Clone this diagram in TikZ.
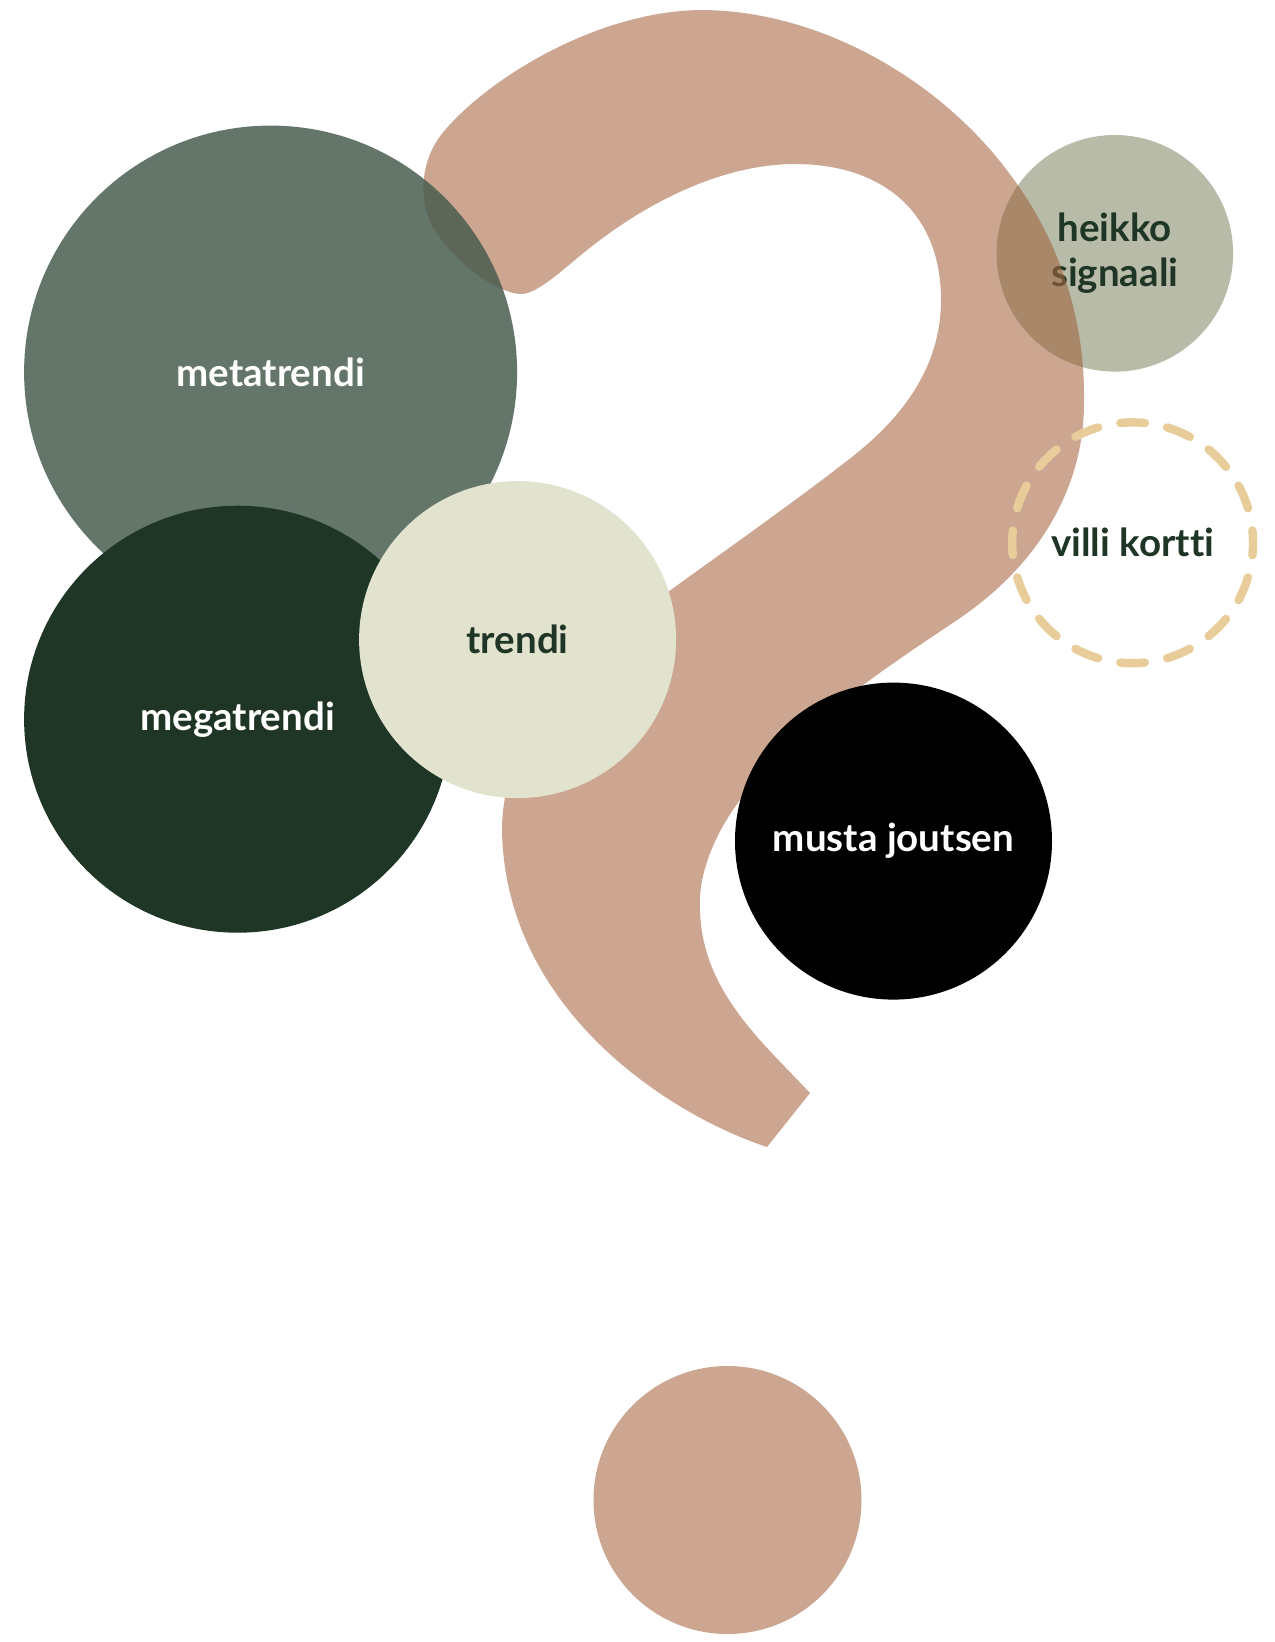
\documentclass[tikz,border=0pt]{standalone}
\usepackage{fontspec}
\setmainfont{Lato}[Ligatures=NoCommon]
\definecolor{qtan}{RGB}{204,166,145}
\definecolor{metaC}{RGB}{71,91,78}
\definecolor{megaC}{RGB}{31,53,38}
\definecolor{trendC}{RGB}{225,227,206}
\definecolor{heikC}{RGB}{183,187,168}
\definecolor{brownOv}{RGB}{161,102,65}
\definecolor{villiC}{RGB}{232,205,155}
\definecolor{darkT}{RGB}{31,53,38}
\begin{document}
\begin{tikzpicture}[x=1pt,y=-1pt,
  blob/.style={circle, inner sep=0pt, outer sep=0pt, align=center,
    font=\bfseries\fontsize{38.5}{45}\selectfont},
  qmark/.style={insert path={(767,1147)
    .. controls (670,1115) and (505,1010) .. (502,830)
    .. controls (502,730) and (588,651) .. (668,592)
    .. controls (730,547) and (800,498) .. (857,453)
    .. controls (910,410) and (941,360) .. (941,300)
    .. controls (941,210) and (880,164) .. (795,164)
    .. controls (730,164) and (660,195) .. (600,240)
    .. controls (570,262) and (540,294) .. (521,294)
    .. controls (500,294) and (455,265) .. (433,227)
    .. controls (420,205) and (418,165) .. (441,135)
    .. controls (480,85) and (590,12) .. (700,10)
    .. controls (820,10) and (940,80) .. (1009,173)
    .. controls (1060,240) and (1085,320) .. (1084,400)
    .. controls (1085,480) and (1045,560) .. (960,618)
    .. controls (915,649) and (800,720) .. (740,800)
    .. controls (710,840) and (698,880) .. (700,910)
    .. controls (702,990) and (760,1040) .. (810,1093)
    -- cycle}}
]
\useasboundingbox (0,0) rectangle (1275,1642);
\fill[white] (0,0) rectangle (1275,1642);

% question mark body
\fill[qtan, qmark];

% circles
\node[blob, minimum size=493pt, fill=metaC, fill opacity=0.84, text opacity=1, text=white]
  (meta) at (270.6,372.1) {metatrendi};
\node[blob, minimum size=427pt, fill=megaC, text=white]
  (mega) at (237.6,719.2) {megatrendi};
\node[blob, minimum size=317pt, fill=trendC, text=darkT]
  (trend) at (517.6,639.6) {trendi};
\node[blob, minimum size=236.6pt, fill=heikC, text=darkT]
  (heik) at (1114.8,253.3) {heikko\\signaali};
\begin{scope}
  \clip (heik.center) circle[radius=118.3];
  \fill[brownOv, opacity=0.6, qmark];
\end{scope}
\node[blob, minimum size=240.8pt, draw=villiC, line width=8.4pt, line cap=round,
  dash pattern=on 24.6pt off 22.68pt, dash phase=12.3pt, text=darkT]
  (villi) at (1132.6,542.8) {villi kortti};
\node[blob, minimum size=317pt, fill=black, text=white]
  (musta) at (893.5,841.1) {musta joutsen};

% dot of the question mark
\node[circle, inner sep=0pt, minimum size=268pt, fill=qtan] (dot) at (727.5,1500) {};
\end{tikzpicture}
\end{document}
